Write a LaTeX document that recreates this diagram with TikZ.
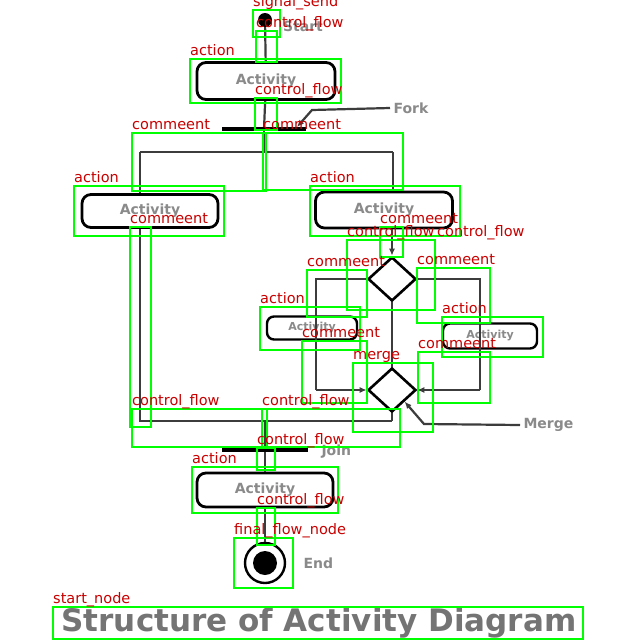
\documentclass[tikz,border=0pt]{standalone}
\usepackage{fontspec}
\setmainfont{DejaVu Sans}
\usepackage{tikz}
\usetikzlibrary{positioning, arrows.meta, shapes.geometric}
\definecolor{dInk}{HTML}{3C3C3C}
\definecolor{dText}{HTML}{8A8A8A}
\definecolor{tGray}{HTML}{747474}
\definecolor{bBox}{HTML}{00FF00}
\definecolor{bLabel}{HTML}{C80000}
% green box with its red tag above the top left corner
\newcommand{\annbox}[6]{%
  \draw[bbox] (#1,#2) rectangle (#3,#4);
  \node[blabel] (#6) at (#1,#2-4) {#5};}

\begin{document}
\begin{tikzpicture}[x=1pt, y=-1pt,
  flow/.style={draw=dInk, line width=2.2pt},
  actbox/.style={draw=black, line width=2.8pt, rounded corners=9pt, fill=white, text=dText,
    font=\bfseries\fontsize{14}{14}\selectfont},
  smallact/.style={actbox, line width=2.4pt, rounded corners=7pt, fill=none, font=\bfseries\fontsize{11}{11}\selectfont},
  bar/.style={fill=black, minimum height=4pt, inner sep=0},
  decide/.style={diamond, draw=black, line width=2.6pt, fill=white, inner sep=0, minimum width=48pt, minimum height=44pt},
  gtext/.style={text=dText, font=\bfseries\fontsize{14}{14}\selectfont},
  bbox/.style={draw=bBox, line width=2pt},
  blabel/.style={text=bLabel, anchor=base west, inner sep=0, font=\fontsize{14.5}{14.5}\selectfont}]
  \useasboundingbox[fill=white] (0,0) rectangle (640,640);

  % the diagram
  \node[gtext] (startlbl) at (303,26) {Start};
  \node[circle, fill=black, minimum size=14pt, inner sep=0] (start) at (265,20) {};
  \node[actbox, minimum width=138pt, minimum height=37pt] (act1) at (266,81) {Activity};
  \node[bar, minimum width=84pt] (fork) at (264,129) {};
  \node[gtext, anchor=west] (forklbl) at (390,108) {Fork};
  \node[actbox, minimum width=136pt, minimum height=33pt] (actL) at (150,211) {Activity};
  \node[actbox, minimum width=137pt, minimum height=36pt] (actR) at (384,210) {Activity};
  \node[decide] (dec) at (392,279) {};
  \node[decide] (merge) at (392,390) {};
  \node[smallact, minimum width=90pt, minimum height=23pt] (actIL) at (312,328) {Activity};
  \node[smallact, minimum width=94pt, minimum height=25pt] (actIR) at (490,336) {Activity};
  \node[gtext, anchor=west] (mergelbl) at (520,425) {Merge};
  \node[bar, minimum width=86pt] (join) at (265,450) {};
  \node[gtext, anchor=west] (joinlbl) at (318,452) {Join};
  \node[actbox, minimum width=136pt, minimum height=34pt] (act5) at (265,490) {Activity};
  \node[circle, draw=black, line width=2.4pt, minimum size=40pt, inner sep=0] (end) at (265,563) {};
  \node[circle, fill=black, minimum size=24pt, inner sep=0] (endc) at (end) {};
  \node[gtext, anchor=west] (endlbl) at (300,563) {End};
  \node[text=tGray, font=\bfseries\fontsize{31}{31}\selectfont] (title) at (319,623) {Structure of Activity Diagram};

  \coordinate (splitL) at (140,152);
  \coordinate (splitR) at (393,152);
  \coordinate (brL) at (316,279);
  \coordinate (brLb) at (316,390);
  \coordinate (brR) at (480,279);
  \coordinate (brRb) at (480,390);
  \coordinate (joinL) at (140,421);
  \coordinate (joinR) at (392,421);
  \coordinate (joinM) at (265,421);
  \coordinate (mgbend) at (424,424);
  \coordinate (fkbend) at (312,110);

  \draw[flow] (start) -- (act1);
  \draw[flow] (act1) -- (fork);
  \draw[flow] (fork.south) -- (fork.south |- splitL);
  \draw[flow] (splitL) -- (splitR);
  \draw[flow] (splitL) -- (splitL |- actL.north);
  \draw[flow] (splitR) -- (splitR |- actR.north);
  \draw[flow, -{Latex[length=7pt, width=6pt]}] (dec.north |- actR.south) -- (dec.north);
  \draw[flow] (dec.west) -- (brL) -- (brLb);
  \draw[flow, -{Latex[length=7pt, width=6pt]}] (brLb) -- (merge.west);
  \draw[flow] (dec.east) -- (brR) -- (brRb);
  \draw[flow, -{Latex[length=7pt, width=6pt]}] (brRb) -- (merge.east);
  \draw[flow] (dec.south) -- (merge.north);
  \draw[flow] (actL.south -| joinL) -- (joinL) -- (joinR);
  \draw[flow] (merge.south) -- (joinR);
  \draw[flow] (joinM) -- (join);
  \draw[flow] (join) -- (act5);
  \draw[flow] (act5) -- (end);
  \draw[flow, -{Latex[length=7pt, width=6pt]}] (forklbl.west) -- (fkbend) -- (297,127);
  \draw[flow, -{Latex[length=7pt, width=6pt]}] (mergelbl.west) -- (mgbend) -- (merge.south east);

  % boxes
  \annbox{253}{10}{280}{37}{signal\_send}{a1}
  \annbox{256}{31}{277}{62}{control\_flow}{a2}
  \annbox{190}{59}{341}{103}{action}{a3}
  \annbox{255}{98}{277}{130}{control\_flow}{a4}
  \annbox{132}{133}{266}{191}{commeent}{a5}
  \annbox{263}{133}{403}{190}{commeent}{a6}
  \annbox{74}{186}{224}{236}{action}{a7}
  \annbox{310}{186}{460}{236}{action}{a8}
  \annbox{130}{227}{151}{427}{commeent}{a9}
  \annbox{380}{227}{403}{257}{commeent}{a10}
  \annbox{347}{240}{435}{310}{control\_flow}{a11}
  \node[blabel] (a12) at (437,236) {control\_flow};
  \annbox{307}{270}{367}{317}{commeent}{a13}
  \annbox{417}{268}{490}{323}{commeent}{a14}
  \annbox{260}{307}{360}{350}{action}{a15}
  \annbox{442}{317}{543}{357}{action}{a16}
  \annbox{302}{341}{367}{403}{commeent}{a17}
  \annbox{418}{352}{490}{403}{commeent}{a18}
  \annbox{353}{363}{433}{432}{merge}{a19}
  \annbox{132}{409}{267}{447}{control\_flow}{a20}
  \annbox{262}{409}{400}{447}{control\_flow}{a21}
  \annbox{257}{448}{275}{470}{control\_flow}{a22}
  \annbox{192}{467}{338}{513}{action}{a23}
  \annbox{257}{508}{275}{545}{control\_flow}{a24}
  \annbox{234}{538}{293}{588}{final\_flow\_node}{a25}
  \annbox{53}{607}{583}{639}{start\_node}{a26}
\end{tikzpicture}
\end{document}
